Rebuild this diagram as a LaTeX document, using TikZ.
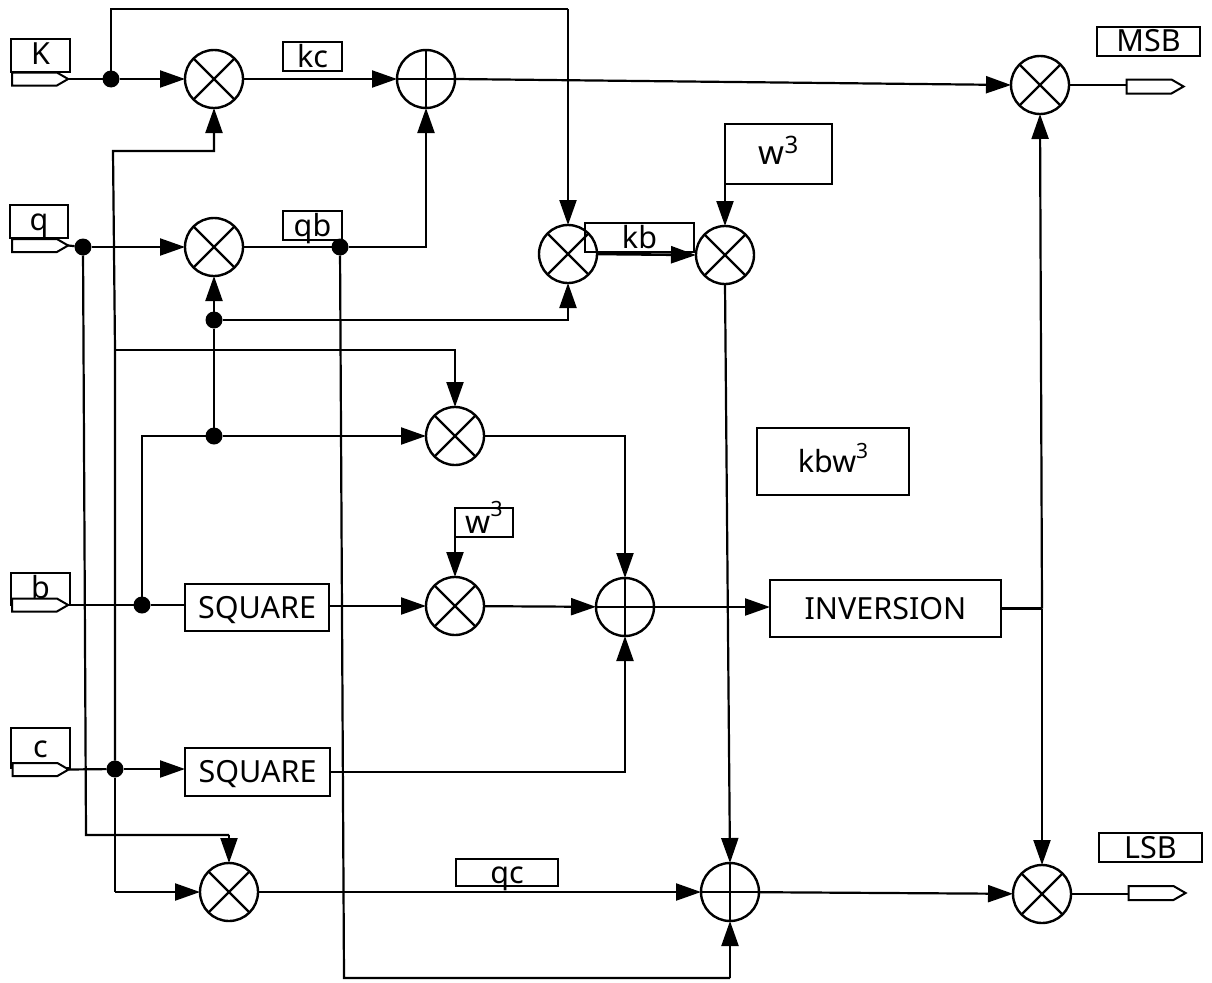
\documentclass[tikz,border=0pt]{standalone}
\usepackage{fontspec}
\setmainfont{Noto Sans}
\usetikzlibrary{arrows.meta,shapes.symbols}
\newcommand{\upthree}[2]{\raisebox{#1}{\fontsize{#2}{#2}\selectfont 3}}
\tikzset{
  x=1pt,y=-1pt,
  every node/.style={font=\fontsize{30.5}{34}\selectfont,inner sep=0pt,outer sep=0pt},
  conn/.style={line width=2.2pt,line join=miter},
  arr/.style={conn,-{Triangle[length=25pt,width=17pt]}},
  lbl/.style={draw,line width=2.2pt,rectangle,text height=21pt,text depth=0pt},
  inlbl/.style={lbl,text height=18pt},
  opr/.style={circle,draw,line width=2.4pt,minimum size=58pt},
  mult/.style={opr,path picture={\draw[line width=2.2pt] (path picture bounding box.north west)--(path picture bounding box.south east) (path picture bounding box.north east)--(path picture bounding box.south west);}},
  addr/.style={opr,path picture={\draw[line width=2.2pt] (path picture bounding box.north)--(path picture bounding box.south) (path picture bounding box.east)--(path picture bounding box.west);}},
  jn/.style={circle,fill=black,minimum size=17pt},
  port/.style={signal,signal to=east,signal pointer angle=60,draw,fill=white,line width=2pt,minimum width=56pt,minimum height=13pt},
}
\begin{document}
\begin{tikzpicture}
\useasboundingbox (0,0) rectangle (1212,982);
% operators
\node[mult] (m1) at (214,79) {};
\node[addr] (p1) at (426,79) {};
\node[mult] (m2) at (214,247) {};
\node[mult] (m3) at (568,254) {};
\node[mult] (m4) at (725,255) {};
\node[mult] (m5) at (455,436) {};
\node[mult] (m6) at (455,606) {};
\node[addr] (p2) at (625,607) {};
\node[mult] (m7) at (229,892) {};
\node[addr] (p3) at (730,892) {};
\node[mult] (m8) at (1040,85) {};
\node[mult] (m9) at (1042,894) {};
% input labels and ports
\node[inlbl,minimum width=59pt,minimum height=33pt] (lk) at (40.5,55.5) {K};
\node[inlbl,minimum width=58pt,minimum height=33pt] (lq) at (39,221.5) {q};
\node[inlbl,minimum width=59pt,minimum height=32pt] (lb) at (40.5,589) {b};
\node[inlbl,minimum width=59pt,minimum height=40pt] (lc) at (40.5,748) {c};
\node[port] (ik) at (34.5,79) {};
\node[port] (iq) at (34.5,245.5) {};
\node[port] (ib) at (34.5,605) {};
\node[port] (ic) at (35,769.5) {};
\node[port,minimum width=57pt,minimum height=14pt] (om) at (1149,86.5) {};
\node[port,minimum width=57pt,minimum height=14pt] (ol) at (1151,893) {};
% boxes
\node[lbl,minimum width=103pt,minimum height=29pt] (msb) at (1148.5,41.5) {MSB};
\node[lbl,minimum width=103pt,minimum height=29pt] (lsb) at (1150.5,847.5) {LSB};
\node[lbl,minimum width=59pt,minimum height=29pt] (kc) at (312.5,56.5) {kc};
\node[lbl,minimum width=59pt,minimum height=29pt] (qb) at (312.5,225.5) {qb};
\node[lbl,minimum width=109pt,minimum height=29pt] (kb) at (639.5,237.5) {kb};
\node[lbl,minimum width=107pt,minimum height=60pt,font=\fontsize{33}{36}\selectfont] (w1) at (778.5,154) {w\upthree{11pt}{24}};
\node[lbl,minimum width=152pt,minimum height=67pt] (kbw) at (833,461.5) {kbw\upthree{14pt}{21}};
\node[lbl,minimum width=58pt,minimum height=29pt,font=\fontsize{32}{34}\selectfont] (w2) at (484,522.5) {w\upthree{17pt}{21}};
\node[lbl,minimum width=144pt,minimum height=47pt] (s1) at (257,607.5) {SQUARE};
\node[lbl,minimum width=145pt,minimum height=48pt] (s2) at (257.5,772) {SQUARE};
\node[lbl,minimum width=231pt,minimum height=57pt] (inv) at (885.5,608.5) {INVERSION};
\node[lbl,minimum width=102pt,minimum height=27pt] (qc) at (507,872.5) {qc};
% junctions
\node[jn] (jk) at (111,79) {};
\node[jn] (jq) at (83,247) {};
\node[jn] (jqb) at (340,247) {};
\node[jn] (ja) at (214,320) {};
\node[jn] (jb) at (214,436) {};
\node[jn] (jc) at (142,605) {};
\node[jn] (jd) at (115,769) {};
% bend points
\coordinate (bus1) at (113,151);
\coordinate (bus2) at (115,350);
\coordinate (bus3) at (115,892);
\coordinate (kt1) at (111,9);
\coordinate (kt2) at (568,9);
\coordinate (qd) at (86,835);
\coordinate (qe) at (229,835);
\coordinate (qf) at (344,978);
\coordinate (qg) at (730,978);
\coordinate (bl) at (142,436);
\coordinate (ij) at (1042,608.5);
% connectors
\draw[conn] (ik.east) -- (jk);
\draw[arr] (jk) -- (m1);
\draw[conn] (jk) -- (kt1) -- (kt2);
\draw[arr] (kt2) -- (m3.north);
\draw[arr] (m1) -- (p1);
\draw[arr] (p1.east) -- (m8.west);
\draw[arr] (jd) -- (bus2) -- (bus1) -| (m1.south);
\draw[conn] (jd) -- (bus3);
\draw[arr] (bus3) -- (m7.west);
\draw[arr] (bus2) -| (m5.north);
\draw[conn] (iq.east) -- (jq);
\draw[arr] (jq) -- (m2);
\draw[conn] (jq) -- (qd) -- (qe);
\draw[arr] (qe) -- (m7.north);
\draw[conn] (m2) -- (jqb);
\draw[arr] (jqb) -| (p1.south);
\draw[conn] (jqb) -- (qf) -- (qg);
\draw[arr] (qg) -- (p3.south);
\draw[arr] (ja) -- (m2.south);
\draw[arr] (ja) -| (m3.south);
\draw[conn] (ja) -- (jb);
\draw[arr] (jb) -- (m5.west);
\draw[conn] (jb) -- (bl) -- (jc);
\draw[conn] (ib.east) -- (jc) -- (jc -| s1.west);
\draw[arr] (s1.east |- m6) -- (m6.west);
\draw[arr] (w2.south west) -- (m6.north);
\draw[arr] (m5.east) -| (p2.north);
\draw[arr] (m6) -- (p2);
\draw[arr] (p2) -- (p2 -| inv.west);
\draw[conn] (ic.east) -- (jd);
\draw[arr] (jd) -- (jd -| s2.west);
\draw[arr] (s2.east) -| (p2.south);
\draw[conn] (inv.east) -- (ij);
\draw[arr] (ij) -- (m8.south);
\draw[arr] (ij) -- (m9.north);
\draw[arr,line width=2.6pt] (m3.east) -- (m4.west);
\draw[arr] (w1.south west) -- (m4.north);
\draw[arr] (m4.south) -- (p3.north);
\draw[arr] (m7) -- (p3);
\draw[arr] (p3) -- (m9);
\draw[conn] (m8) -- (m8 -| om.west);
\draw[conn] (m9) -- (m9 -| ol.west);
\end{tikzpicture}
\end{document}
